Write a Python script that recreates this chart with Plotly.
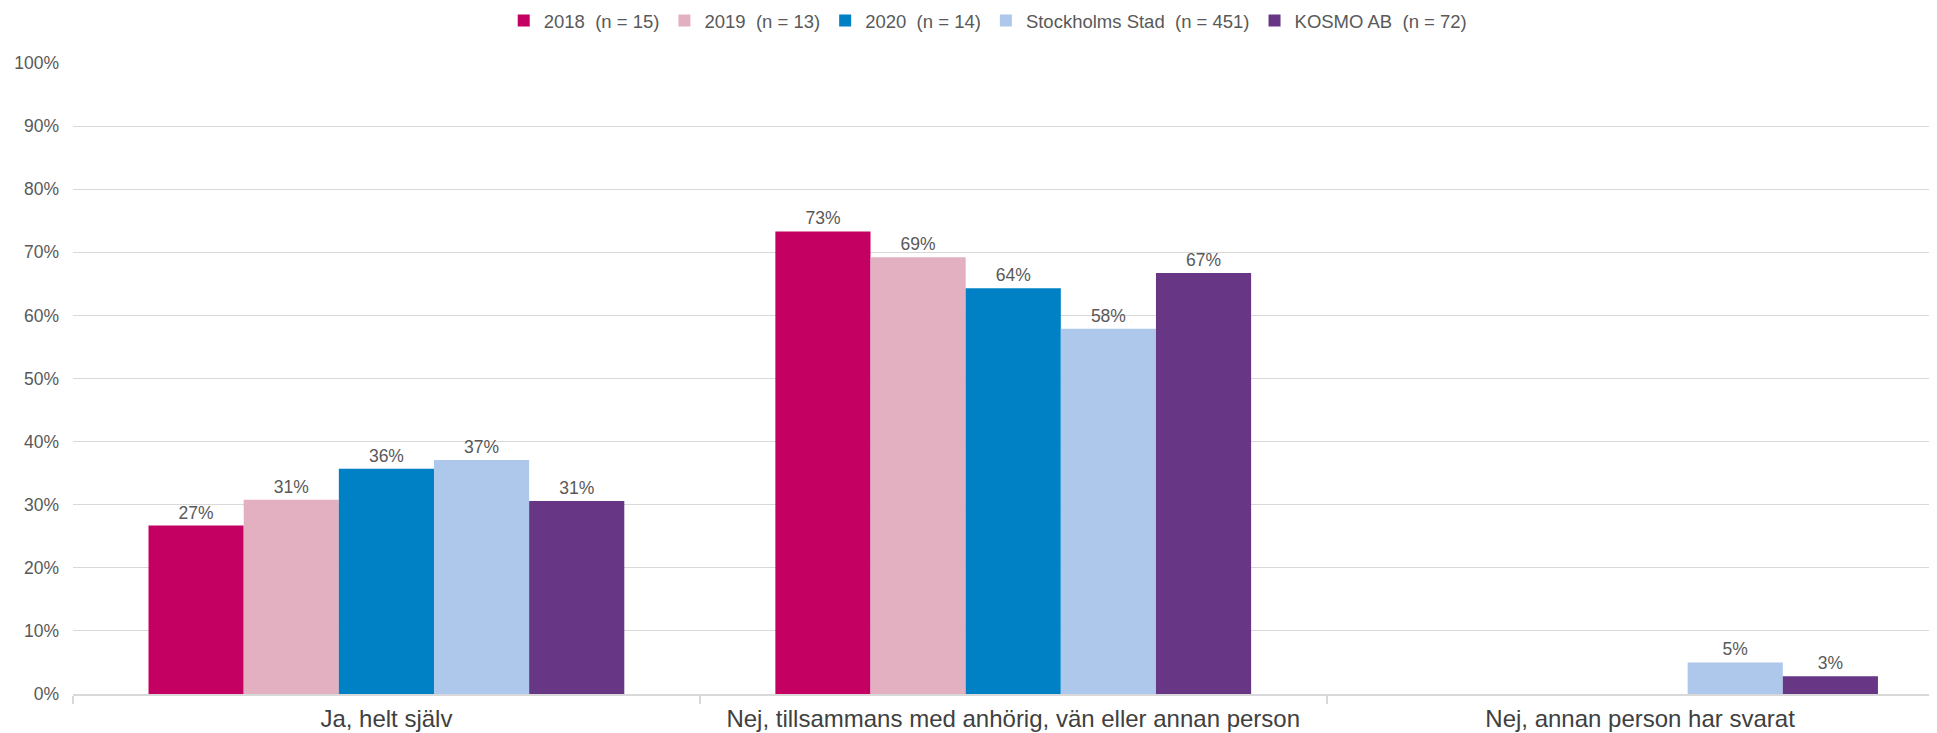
import plotly.graph_objects as go

categories = ["Ja, helt själv",
              "Nej, tillsammans med anhörig, vän eller annan person",
              "Nej, annan person har svarat"]
series_names = ["2018  (n = 15)", "2019  (n = 13)", "2020  (n = 14)",
                "Stockholms Stad  (n = 451)", "KOSMO AB  (n = 72)"]
v2018 = [26.7, 73.3, 0]
v2019 = [30.8, 69.2, 0]
v2020 = [35.7, 64.3, 0]
vstockholm = [37.1, 57.9, 5.0]
vkosmo = [30.6, 66.7, 2.8]
colors = ["#C40062", "#E3B0C1", "#0080C5", "#ADC8EB", "#673786"]
y_ticks = list(range(0, 101, 10))

all_values = [v2018, v2019, v2020, vstockholm, vkosmo]

fig = go.Figure()
for name, vals, col in zip(series_names, all_values, colors):
    labels = [f"{round(v):.0f}%" if v > 0 else "" for v in vals]
    fig.add_trace(go.Bar(
        x=categories, y=vals, name=name,
        marker=dict(color=col, line=dict(width=0)),
        text=labels, textposition="outside", cliponaxis=False,
        textfont=dict(family="Liberation Sans, Arial", size=17.5, color="#595959"),
        hoverinfo="skip",
    ))

# page body has an 8px margin, so the figure is offset by 8px in the window
fig.update_layout(
    width=1929, height=725,
    margin=dict(l=65, r=0, t=55, b=39, autoexpand=False),
    paper_bgcolor="white", plot_bgcolor="white",
    barmode="group", bargap=0.241, bargroupgap=0,
    font=dict(family="Liberation Sans, Arial", color="#595959"),
    legend=dict(orientation="h", x=0.491, xanchor="center",
                yref="container", y=0.982, yanchor="middle",
                font=dict(size=18.5, color="#595959"), itemwidth=30,
                traceorder="normal"),
    showlegend=True,
)
fig.update_xaxes(
    type="category", range=[-0.5, 2.4737],
    showline=True, linecolor="#D9D9D9", linewidth=1.5,
    ticks="outside", tickson="boundaries", ticklen=8, tickcolor="#D9D9D9", tickwidth=1.5,
    tickfont=dict(size=24, color="#404040"), ticklabelstandoff=2,
    showgrid=False,
)
fig.update_yaxes(
    range=[0, 100], tickvals=y_ticks, ticktext=[f"{t}%" for t in y_ticks],
    showgrid=True, gridcolor="#D9D9D9", gridwidth=1.3,
    zeroline=False, showline=False,
    tickfont=dict(size=17.5, color="#595959"), ticklabelstandoff=13,
)

fig.write_html("out.html")
